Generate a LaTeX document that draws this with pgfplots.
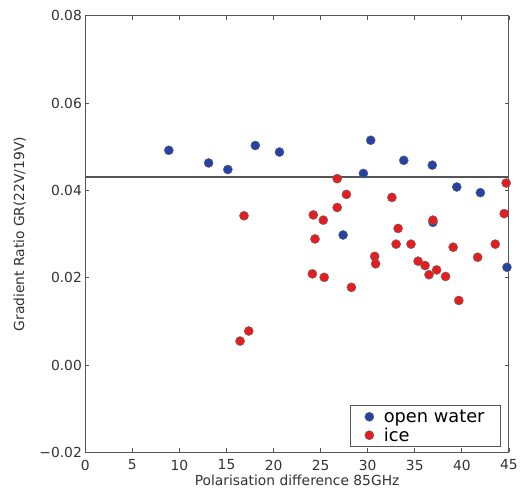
\documentclass[border=0pt]{standalone}
\usepackage{fontspec}
\setmainfont{DejaVu Sans}
\usepackage{pgfplots}
\pgfplotsset{compat=1.18}
\definecolor{owblue}{RGB}{38,66,165}
\definecolor{icered}{RGB}{228,30,32}
\definecolor{framegray}{RGB}{85,85,85}

\pgfplotsset{
  dotmark/.style={only marks, mark=*, mark size=4.6bp,
    mark options={fill=#1, draw=black!60, line width=0.4bp}},
}

\begin{document}
\begin{tikzpicture}
\path (-86bp,-36bp) rectangle (435bp,456bp);
\begin{axis}[
  at={(0,0)}, anchor=south west,
  scale only axis,
  width=427bp, height=440bp,
  xmin=0, xmax=45, ymin=-0.02, ymax=0.08,
  scaled y ticks=false,
  xtick={0,5,...,45},
  xticklabels={0,5,10,15,20,25,30,35,40,45},
  ytick={-0.02,0,0.02,0.04,0.06,0.08},
  yticklabels={−0.02,0.00,0.02,0.04,0.06,0.08},
  tick align=inside, major tick length=4bp,
  axis line style={framegray, line width=0.9bp},
  tick style={framegray, line width=0.8bp},
  tick label style={font=\fontsize{14}{16}\selectfont, text=black!80},
  xticklabel style={yshift=-4bp},
  xlabel={Polarisation difference 85GHz},
  ylabel={Gradient Ratio GR(22V/19V)},
  label style={font=\fontsize{14}{16}\selectfont, text=black!80},
  xlabel style={at={(axis description cs:0.5,-0.0636)}, anchor=center},
  ylabel style={at={(axis description cs:-0.1546,0.5)}, anchor=center},
  legend style={at={(0.981,0.012)}, anchor=south east,
    draw=framegray, line width=0.9bp, font=\fontsize{18}{20}\selectfont,
    row sep=0bp, inner xsep=14bp, inner ysep=2bp,
    /tikz/every odd column/.append style={column sep=8bp}},
  legend cell align=left,
]
\addplot[dotmark=owblue]
  coordinates {
  (8.87,0.0492) (13.1,0.0463) (15.14,0.0448) (18.06,0.0503) (20.63,0.0488)
  (30.32,0.0515) (29.54,0.0439) (33.83,0.0469) (36.86,0.0458) (39.46,0.0408)
  (41.97,0.0395) (27.39,0.0298) (36.93,0.0327) (44.79,0.0224)
  };
\addlegendentry{open water}
\addplot[dotmark=icered]
  coordinates {
  (26.76,0.0427) (44.71,0.0417) (27.74,0.0391) (32.57,0.0384) (26.76,0.0361)
  (44.5,0.0347) (16.86,0.0342) (24.22,0.0344) (25.28,0.0332) (36.93,0.0332)
  (33.23,0.0313) (24.4,0.0289) (33.02,0.0277) (34.6,0.0277) (39.08,0.0270)
  (43.55,0.0277) (30.74,0.0249) (30.84,0.0232) (41.68,0.0247) (35.35,0.0238)
  (36.09,0.0228) (37.32,0.0218) (36.51,0.0207) (38.27,0.0203) (24.12,0.0209)
  (25.38,0.0201) (28.27,0.0178) (39.68,0.0148) (17.36,0.0078) (16.44,0.0055)
  };
\addlegendentry{ice}
\addplot[framegray, line width=1.4bp, forget plot] coordinates {(0,0.0431) (45,0.0431)};
\end{axis}
\end{tikzpicture}
\end{document}
